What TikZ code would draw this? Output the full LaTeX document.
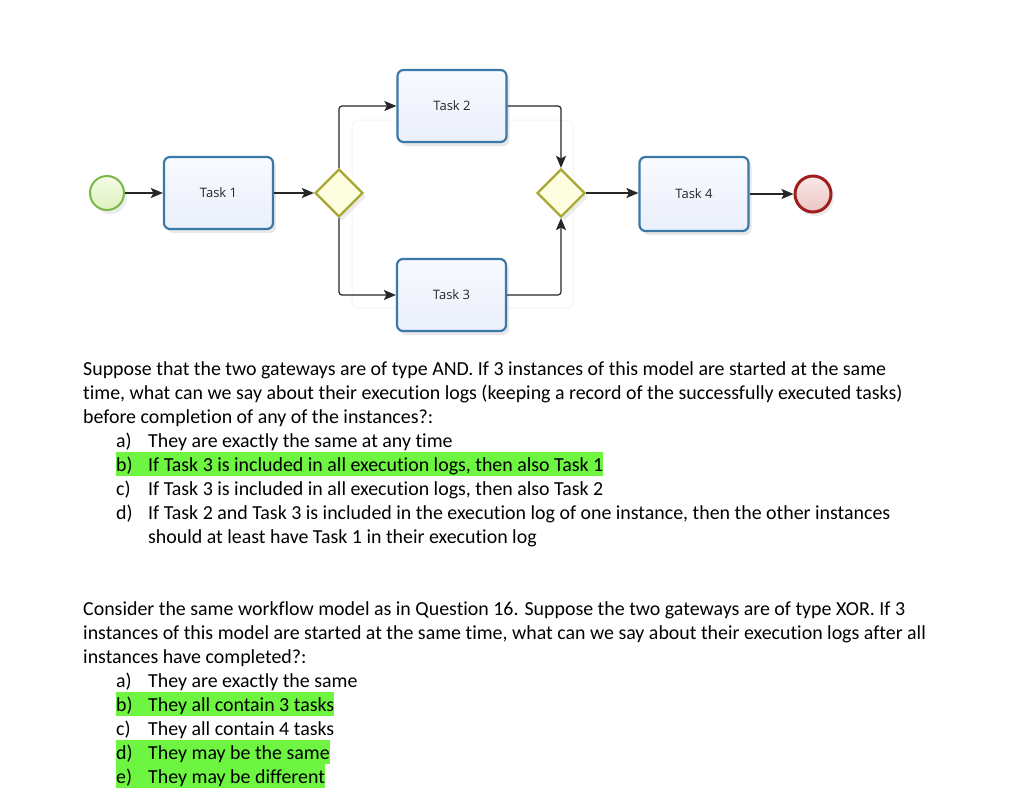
\documentclass[tikz,border=0pt]{standalone}
\usepackage{fontspec}
\setmainfont[Ligatures=NoCommon]{Carlito}
\newfontfamily\taskfont{Open Sans}
\usetikzlibrary{shapes.geometric,arrows.meta,shadows}
\definecolor{hl}{RGB}{110,245,66}
\definecolor{taskline}{RGB}{58,120,168}
\definecolor{gwline}{RGB}{168,168,50}
\definecolor{startline}{RGB}{122,182,72}
\definecolor{endline}{RGB}{160,30,30}
\tikzset{
  body/.style={anchor=base west,inner sep=0pt,font=\fontsize{19.9}{24}\selectfont},
  hlitem/.style={body,fill=hl,text height=19pt,text depth=5pt},
  task/.style={draw=taskline,line width=2.2pt,rounded corners=6pt,minimum width=109pt,minimum height=72pt,
    top color={rgb,255:red,249;green,250;blue,255},bottom color={rgb,255:red,234;green,239;blue,251},
    drop shadow={opacity=0.18,shadow xshift=3pt,shadow yshift=-4pt},
    font=\taskfont\fontsize{13}{15}\selectfont,text=black!85},
  gateway/.style={diamond,draw=gwline,line width=2.2pt,fill={rgb,255:red,253;green,253;blue,224},
    minimum width=48pt,minimum height=48pt,inner sep=0pt,
    drop shadow={opacity=0.15,shadow xshift=3pt,shadow yshift=-4pt}},
  startev/.style={circle,draw=startline,line width=2pt,minimum size=34pt,inner sep=0pt,
    top color={rgb,255:red,244;green,251;blue,230},bottom color={rgb,255:red,222;green,242;blue,190},
    drop shadow={opacity=0.15,shadow xshift=3pt,shadow yshift=-4pt}},
  endev/.style={circle,draw=endline,line width=3pt,minimum size=36pt,inner sep=0pt,
    top color={rgb,255:red,250;green,232;blue,232},bottom color={rgb,255:red,236;green,196;blue,196},
    drop shadow={opacity=0.15,shadow xshift=3pt,shadow yshift=-4pt}},
  conn/.style={draw=black!85,line width=1.2pt,rounded corners=3pt,-{Stealth[length=12pt,width=10pt,inset=2.5pt]}},
}
\newcommand{\lbl}[1]{\makebox[32pt][l]{#1}}
\begin{document}
\begin{tikzpicture}[x=1pt,y=-1pt]
\useasboundingbox[fill=white] (0,0) rectangle (1024,811);
% faint selection frame
\draw[black!4,line width=1pt,rounded corners=6pt] (352,120) rectangle (573,308);
% nodes
\node[startev] (s) at (107,193) {};
\node[task] (t1) at (218.5,193) {Task 1};
\node[gateway] (g1) at (339,193) {};
\node[task] (t2) at (452,106) {Task 2};
\node[task] (t3) at (451.5,295) {Task 3};
\node[gateway] (g2) at (561,193) {};
\node[task,minimum height=74pt] (t4) at (694,194) {Task 4};
\node[endev] (e) at (813,194) {};
% connectors
\draw[conn] (s) -- (t1);
\draw[conn] (t1) -- (g1);
\draw[conn] (g1.north) |- (t2.west);
\draw[conn] (g1.south) |- (t3.west);
\draw[conn] (t2.east) -| (g2.north);
\draw[conn] (t3.east) -| (g2.south);
\draw[conn] (g2.east) -- (g2.east -| t4.west);
\draw[conn] (t4.east) -- (t4.east -| e.west);
% question 1
\node[body] (q1a) at (83,375) {Suppose that the two gateways are of type AND. If 3 instances of this model are started at the same};
\node[body] (q1b) at (83,399) {time, what can we say about their execution logs (keeping a record of the successfully executed tasks)};
\node[body] (q1c) at (83,423) {before completion of any of the instances?:};
\node[body] (q1o1) at (116,447) {\lbl{a)}They are exactly the same at any time};
\node[hlitem] (q1o2) at (116,471) {\lbl{b)}If Task 3 is included in all execution logs, then also Task 1};
\node[body] (q1o3) at (116,495) {\lbl{c)}If Task 3 is included in all execution logs, then also Task 2};
\node[body] (q1o4) at (116,519) {\lbl{d)}If Task 2 and Task 3 is included in the execution log of one instance, then the other instances};
\node[body] (q1o4b) at (148,543) {should at least have Task 1 in their execution log};
% question 2
\node[body] (q2a) at (83,615) {Consider the same workflow model as in Question 16. Suppose the two gateways are of type XOR. If 3};
\node[body] (q2b) at (83,639) {instances of this model are started at the same time, what can we say about their execution logs after all};
\node[body] (q2c) at (83,663) {instances have completed?:};
\node[body] (q2o1) at (116,687) {\lbl{a)}They are exactly the same};
\node[hlitem] (q2o2) at (116,711) {\lbl{b)}They all contain 3 tasks};
\node[body] (q2o3) at (116,735) {\lbl{c)}They all contain 4 tasks};
\node[hlitem] (q2o4) at (116,759) {\lbl{d)}They may be the same};
\node[hlitem] (q2o5) at (116,783) {\lbl{e)}They may be different};
\end{tikzpicture}
\end{document}
